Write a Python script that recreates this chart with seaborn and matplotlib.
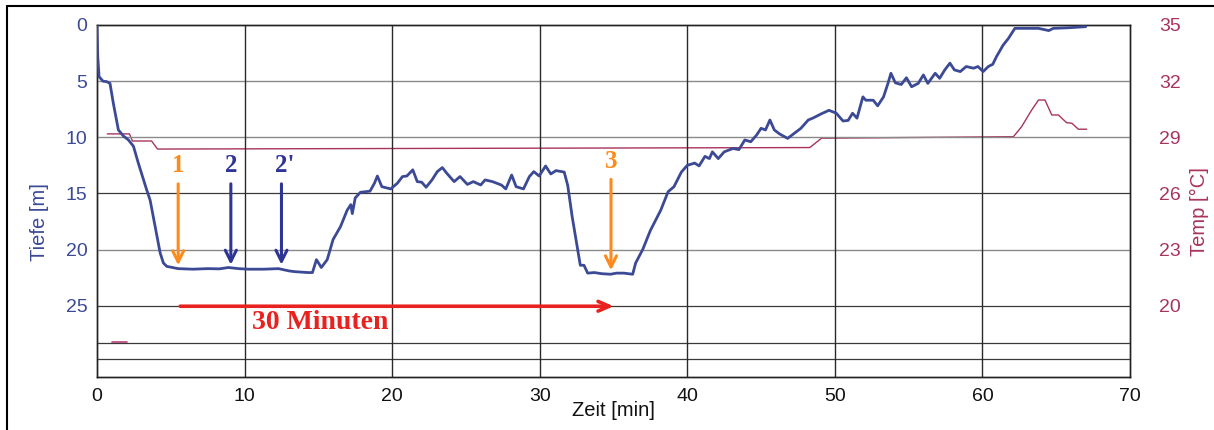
import numpy as np
import pandas as pd
import matplotlib
matplotlib.use("Agg")
import matplotlib.pyplot as plt
import seaborn as sns
from matplotlib.lines import Line2D

# Tiefe [m] über Zeit [min]
zeit = [0.0, 0.05, 0.14, 0.4, 0.66, 0.88, 1.11, 1.45, 1.8, 2.13, 2.47, 2.8, 3.37, 3.6, 3.94,
        4.28, 4.5, 4.73, 5.5, 6.5, 7.5, 8.3, 8.9, 9.6, 10.25, 11.3, 12.3, 13.0, 13.4, 14.3,
        14.6, 14.87, 15.2, 15.6, 16.0, 16.5, 16.95, 17.2, 17.3, 17.5, 17.85, 18.5, 18.8, 19.0,
        19.3, 19.9, 20.35, 20.7, 21.0, 21.4, 21.7, 22.0, 22.3, 22.7, 23.06, 23.4, 23.7, 24.2,
        24.6, 25.1, 25.5, 26.0, 26.3, 26.8, 27.4, 27.7, 28.1, 28.4, 28.9, 29.3, 29.6, 29.96,
        30.4, 30.75, 31.1, 31.66, 31.9, 32.2, 32.57, 32.75, 33.0, 33.25, 33.7, 34.2, 34.8,
        35.2, 35.7, 36.3, 36.5, 36.98, 37.5, 38.2, 38.7, 39.1, 39.6, 40.0, 40.5, 40.8, 41.2,
        41.5, 41.7, 42.1, 42.5, 43.1, 43.5, 43.9, 44.3, 44.7, 45.0, 45.3, 45.6, 45.9, 46.25,
        46.8, 47.3, 47.7, 48.2, 48.5, 49.1, 49.6, 50.1, 50.55, 50.9, 51.2, 51.5, 51.9, 52.1,
        52.6, 52.9, 53.3, 53.6, 53.8, 54.1, 54.5, 54.85, 55.2, 55.65, 56.0, 56.3, 56.8, 57.1,
        57.45, 57.8, 58.1, 58.5, 58.9, 59.4, 59.7, 60.05, 60.4, 60.7, 60.96, 61.4, 61.76, 62.2,
        63.0, 63.8, 64.5, 64.8, 65.8, 67.0]
tiefe = [0.0, 2.8, 4.6, 5.0, 5.05, 5.2, 7.0, 9.35, 9.9, 10.24, 10.8, 12.3, 14.7, 15.6, 17.96,
         20.3, 21.2, 21.5, 21.7, 21.75, 21.7, 21.72, 21.6, 21.7, 21.75, 21.75, 21.7, 21.9, 21.97, 22.05,
         22.05, 20.9, 21.6, 20.9, 19.1, 17.96, 16.5, 16.0, 16.8, 15.4, 14.9, 14.8, 14.1, 13.45,
         14.4, 14.6, 14.1, 13.5, 13.45, 12.9, 13.95, 14.0, 14.45, 13.8, 13.06, 12.7, 13.2, 13.95,
         13.5, 14.2, 13.95, 14.25, 13.8, 13.95, 14.25, 14.6, 13.36, 14.4, 14.6, 13.5, 13.06, 13.45,
         12.56, 13.27, 12.97, 13.1, 14.3, 17.07, 20.0, 21.4, 21.4, 22.1, 22.05, 22.15, 22.2,
         22.1, 22.1, 22.2, 21.2, 20.0, 18.3, 16.5, 14.85, 14.4, 13.1, 12.5, 12.3, 12.55, 11.7,
         11.9, 11.3, 11.9, 11.3, 11.0, 11.1, 10.24, 10.4, 9.8, 9.2, 9.35, 8.46, 9.35, 9.7,
         10.1, 9.6, 9.2, 8.46, 8.3, 7.9, 7.6, 7.86, 8.55, 8.5, 7.86, 8.3, 6.4, 6.7,
         6.7, 7.2, 6.4, 5.2, 4.3, 5.15, 5.3, 4.7, 5.5, 5.2, 4.45, 5.2, 4.3, 4.75,
         4.0, 3.4, 4.0, 4.15, 3.7, 3.85, 3.7, 4.15, 3.7, 3.5, 2.8, 1.8, 1.2, 0.3,
         0.3, 0.3, 0.5, 0.3, 0.25, 0.15]

# Temperatur [°C]
zeit_temp = [0.7, 2.2, 2.4, 3.7, 4.1, 48.3, 49.1, 62.1, 62.66, 63.34, 63.8, 64.24, 64.7,
             65.15, 65.7, 66.06, 66.5, 67.07]
temp = [29.18, 29.18, 28.8, 28.8, 28.37, 28.45, 28.95, 29.03, 29.57, 30.46, 30.99, 30.99,
        30.19, 30.19, 29.78, 29.75, 29.43, 29.43]
zeit_temp_strich = [1.0, 2.0]
temp_strich = [18.06, 18.06]

# Markierungen
pfeil_labels = ["1", "2", "2'", "3"]
pfeil_zeit = [5.5, 9.07, 12.5, 34.83]
pfeil_ende = [21.65, 21.6, 21.6, 22.1]
pfeil_farben = ["#ff8a1c", "#2e3592", "#2e3592", "#ff8a1c"]

df = pd.DataFrame({"Zeit": zeit, "Tiefe": tiefe})
df_t = pd.DataFrame({"Zeit": zeit_temp, "Temp": temp})

sns.set_style("white")
plt.rcParams["font.family"] = ["Liberation Sans", "DejaVu Sans"]

blau = "#3c4a96"
rot_t = "#a8335f"

fig = plt.figure(figsize=(12.14, 4.30), dpi=100)
ax = fig.add_axes([0.0799, 0.1233, 0.8509, 0.8186])
ax2 = ax.twinx()

# Gitter
for d in [5, 10, 20]:
    ax.axhline(d, color="#8a8a8a", lw=1.0, zorder=0)
for d in [15, 25, 28.3, 29.75]:
    ax.axhline(d, color="#3a3a3a", lw=0.9, zorder=0)
for z in [10, 20, 30, 40, 50, 60]:
    ax.axvline(z, color="#2a2a2a", lw=1.0, zorder=0)

sns.lineplot(data=df_t, x="Zeit", y="Temp", ax=ax2, color=rot_t, lw=1.0, estimator=None, sort=False)
ax2.plot(zeit_temp_strich, temp_strich, color="#c0407a", lw=1.2)
sns.lineplot(data=df, x="Zeit", y="Tiefe", ax=ax, color=blau, lw=2.0, estimator=None, sort=False, zorder=5)
ax.set_zorder(ax2.get_zorder() + 1)
ax.patch.set_visible(False)

ax.set_xlim(0, 70)
ax.set_ylim(31.35, 0)
ax2.set_ylim(35 - 0.6 * 31.35, 35)

ax.set_xticks(range(0, 80, 10))
ax.set_yticks([0, 5, 10, 15, 20, 25])
ax2.set_yticks([20, 23, 26, 29, 32, 35])
ax.tick_params(axis="x", length=0, pad=8, labelsize=14, labelcolor="#111111")
ax.tick_params(axis="y", length=0, pad=7, labelsize=14, labelcolor=blau)
ax2.tick_params(axis="y", length=0, pad=21, labelsize=14, labelcolor=rot_t)

ax.set_xlabel("Zeit [min]", fontsize=14.5, color="#111111", labelpad=-3)
ax.set_ylabel("Tiefe [m]", fontsize=14.5, color=blau)
ax.yaxis.set_label_coords(-0.046, 0.44)
ax2.set_ylabel("Temp [°C]", fontsize=14.5, color=rot_t)
ax2.yaxis.set_label_coords(1.058, 0.47)

for a in (ax, ax2):
    for s in a.spines.values():
        s.set_color("#222222")
        s.set_linewidth(1.0)

# Pfeile und Ziffern
for lab, z, ende, col in zip(pfeil_labels, pfeil_zeit, pfeil_ende, pfeil_farben):
    ax.annotate("", xy=(z, ende), xytext=(z, 13.9 if lab != "3" else 13.5),
                arrowprops=dict(arrowstyle="->,head_length=0.8,head_width=0.4", color=col, lw=2.2),
                zorder=6)
    off = 0.25 if lab == "2'" else 0
    ax.text(z + off, 12.5 if lab != "3" else 12.15, lab, color=col, ha="center", va="center",
            fontsize=18, fontweight="bold", family="Liberation Serif", zorder=6)

ax.annotate("", xy=(35.2, 25.05), xytext=(5.45, 25.05),
            arrowprops=dict(arrowstyle="->,head_length=0.8,head_width=0.35", color="#e8231f", lw=2.6),
            zorder=6)
ax.text(15.1, 26.5, "30 Minuten", color="#e8231f", ha="center", va="center",
        fontsize=20, fontweight="bold", family="Liberation Serif", zorder=6)

# Rahmen
fig.add_artist(Line2D([7 / 1214, 1.0], [1 - 6 / 430, 1 - 6 / 430], color="black", lw=1.5))
fig.add_artist(Line2D([7 / 1214, 7 / 1214], [0.0, 1 - 6 / 430], color="black", lw=1.5))

plt.savefig("out.png", dpi=100, facecolor="white")
